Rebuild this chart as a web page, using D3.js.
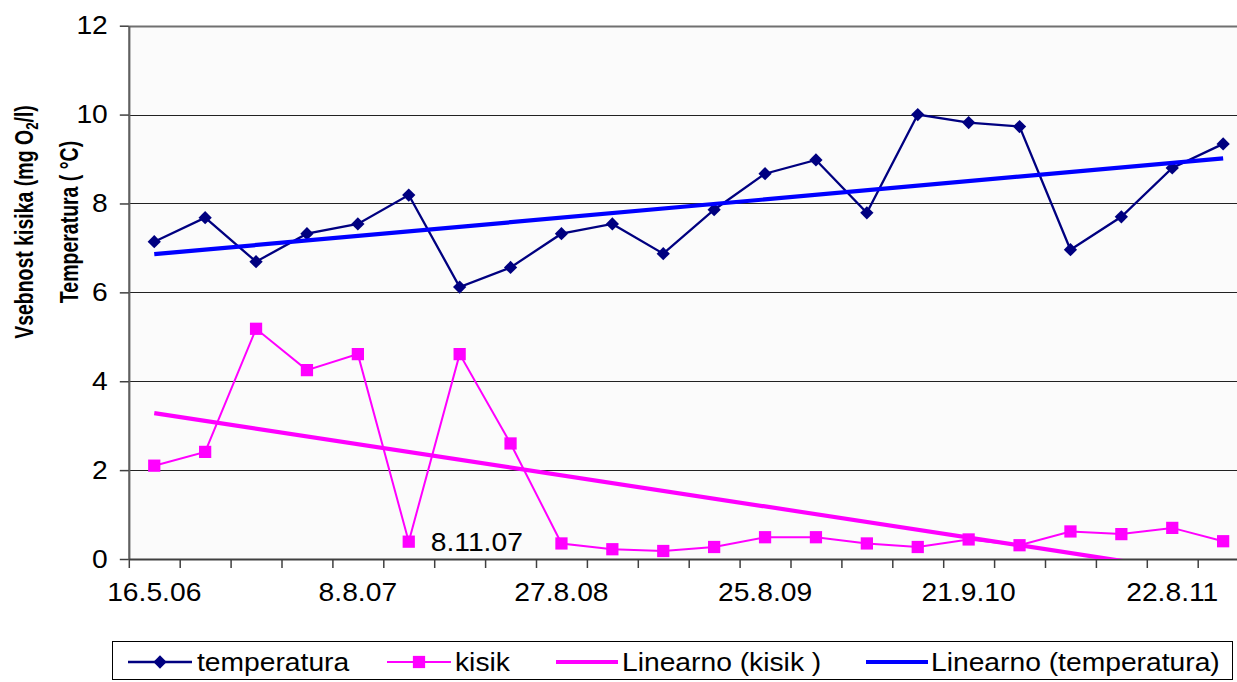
<!DOCTYPE html>
<html>
<head>
<meta charset="utf-8">
<script src="https://cdn.jsdelivr.net/npm/d3@7/dist/d3.min.js"></script>
<style>
  html, body { margin: 0; padding: 0; background: #ffffff; }
  svg { display: block; font-family: "Liberation Sans", Arial, Helvetica, sans-serif; }
</style>
</head>
<body>
<svg id="chart" width="1237" height="682"></svg>
<script>
// Sampling dates (only every fourth one is labelled on the axis)
const dateLabels = ["16.5.06", null, null, null, "8.8.07", null, null, null,
                    "27.8.08", null, null, null, "25.8.09", null, null, null,
                    "21.9.10", null, null, null, "22.8.11", null];

// Water temperature (°C)
const temperatura = [7.14, 7.68, 6.69, 7.32, 7.54, 8.19, 6.12, 6.56, 7.32, 7.54, 6.87,
                     7.86, 8.67, 8.98, 7.79, 10.0, 9.82, 9.73, 6.96, 7.70, 8.80, 9.34];

// Dissolved oxygen (mg O2/l)
const kisik = [2.10, 2.41, 5.18, 4.25, 4.61, 0.39, 4.61, 2.60, 0.35, 0.22, 0.18,
               0.27, 0.49, 0.49, 0.35, 0.27, 0.44, 0.31, 0.62, 0.56, 0.70, 0.40];

const yTicks = [0, 2, 4, 6, 8, 10, 12];
const legendLabels = ["temperatura", "kisik", "Linearno (kisik )", "Linearno (temperatura)"];
const noteLabel = "8.11.07";

const NAVY = "#000080", MAGENTA = "#ff00ff", BLUE = "#0000ff";
const FONT = 25, SX = 1.13;

const svg = d3.select("#chart");
const idx = d3.range(temperatura.length);

const plot = { left: 128.8, top: 25.7, bottom: 559 };
const band = 50.9;
const x = d3.scaleBand().domain(idx).range([plot.left, plot.left + band * idx.length]).paddingInner(0);
const xc = i => x(i) + x.bandwidth() / 2;
const xEdge = d3.scaleLinear().domain([0, idx.length]).range(x.range());
const y = d3.scaleLinear().domain([0, 12]).range([plot.bottom, plot.top]);
const plotRight = x.range()[1];

// plot area background
svg.append("rect")
  .attr("x", plot.left).attr("y", plot.top)
  .attr("width", plotRight - plot.left).attr("height", plot.bottom - plot.top)
  .attr("fill", "#fbfbfb");

svg.append("clipPath").attr("id", "plotClip")
  .append("rect")
  .attr("x", plot.left).attr("y", plot.top)
  .attr("width", plotRight - plot.left).attr("height", plot.bottom - plot.top);

// horizontal gridlines
svg.append("g").selectAll("line").data(yTicks.filter(d => d > 0)).join("line")
  .attr("x1", plot.left).attr("x2", plotRight)
  .attr("y1", d => Math.round(y(d)) + 0.5).attr("y2", d => Math.round(y(d)) + 0.5)
  .attr("stroke", d => d === 12 ? "#707070" : "#222")
  .attr("stroke-width", d => d === 12 ? 2 : 1.2);

// left axis
const yAxis = svg.append("g")
  .attr("transform", `translate(${plot.left},0)`)
  .call(d3.axisLeft(y).tickValues(yTicks).tickSize(9).tickPadding(12).tickSizeOuter(0));
yAxis.select(".domain").attr("stroke", "#606060").attr("stroke-width", 2.2);
yAxis.selectAll(".tick line").attr("stroke", "#404040").attr("stroke-width", 1.5);
yAxis.selectAll(".tick text")
  .attr("font-size", FONT).attr("fill", "#000")
  .attr("font-family", "Liberation Sans, Arial, sans-serif")
  .attr("transform", `scale(${SX},1)`)
  .attr("x", -21 / SX);

// bottom axis: tick marks between categories
const xTickAxis = svg.append("g")
  .attr("transform", `translate(0,${plot.bottom})`)
  .call(d3.axisBottom(xEdge).tickValues(d3.range(idx.length + 1)).tickSize(9).tickFormat("").tickSizeOuter(0));
xTickAxis.select(".domain").attr("stroke", "#404040").attr("stroke-width", 2.2);
xTickAxis.selectAll(".tick line").attr("stroke", "#404040").attr("stroke-width", 1.5);

// bottom axis: date labels centred on categories
const labelIdx = idx.filter(i => dateLabels[i]);
const xLabelAxis = svg.append("g")
  .attr("transform", `translate(0,${plot.bottom})`)
  .call(d3.axisBottom(x).tickValues(labelIdx).tickSize(0).tickPadding(24)
        .tickFormat(i => dateLabels[i]));
xLabelAxis.select(".domain").remove();
xLabelAxis.selectAll(".tick text")
  .attr("font-size", FONT).attr("fill", "#000")
  .attr("font-family", "Liberation Sans, Arial, sans-serif")
  .attr("transform", `scale(${SX},1)`);

// data series
const lineGen = vals => d3.line().x(i => xc(i)).y(i => y(vals[i]))(idx);

svg.append("path").attr("d", lineGen(temperatura))
  .attr("fill", "none").attr("stroke", NAVY).attr("stroke-width", 2.3);
svg.append("path").attr("d", lineGen(kisik))
  .attr("fill", "none").attr("stroke", MAGENTA).attr("stroke-width", 2);

const diamond = d3.symbol().type(d3.symbolSquare).size(88);
const square = d3.symbol().type(d3.symbolSquare).size(150);

svg.append("g").selectAll("path").data(idx).join("path")
  .attr("d", square)
  .attr("transform", i => `translate(${xc(i)},${y(kisik[i])})`)
  .attr("fill", MAGENTA);

svg.append("g").selectAll("path").data(idx).join("path")
  .attr("d", diamond)
  .attr("transform", i => `translate(${xc(i)},${y(temperatura[i])}) rotate(45)`)
  .attr("fill", NAVY);

// least-squares trend lines
function linearFit(vals) {
  const n = vals.length;
  const mx = d3.mean(idx), my = d3.mean(vals);
  let sxy = 0, sxx = 0;
  idx.forEach(i => { sxy += (i - mx) * (vals[i] - my); sxx += (i - mx) * (i - mx); });
  const b = sxy / sxx, a = my - b * mx;
  return [[0, a], [n - 1, a + b * (n - 1)]];
}
const trendLine = d3.line().x(d => xc(d[0])).y(d => y(d[1]));

const trends = svg.append("g").attr("clip-path", "url(#plotClip)");
trends.append("path").attr("d", trendLine(linearFit(kisik)))
  .attr("fill", "none").attr("stroke", MAGENTA).attr("stroke-width", 4.2);
trends.append("path").attr("d", trendLine(linearFit(temperatura)))
  .attr("fill", "none").attr("stroke", BLUE).attr("stroke-width", 4.2);

// note beside the low oxygen reading
svg.append("text")
  .attr("transform", `translate(${xc(5) + 22},${y(kisik[5]) + 9}) scale(${SX},1)`)
  .attr("font-size", FONT).attr("fill", "#000")
  .text(noteLabel);

// axis title (two rotated lines)
const title = svg.append("g").attr("transform", "translate(0,222) rotate(-90)");
const t1 = title.append("text")
  .attr("transform", "translate(0,33) scale(0.78,1)")
  .attr("text-anchor", "middle").attr("font-size", 25).attr("font-weight", "bold");
t1.append("tspan").text("Vsebnost kisika (mg O");
t1.append("tspan").attr("font-size", 17).attr("dy", 5).text("2");
t1.append("tspan").attr("dy", -5).text("/l)");
title.append("text")
  .attr("transform", "translate(0,78) scale(0.78,1)")
  .attr("text-anchor", "middle").attr("font-size", 25).attr("font-weight", "bold")
  .text("Temperatura ( °C)");

// legend
const legend = svg.append("g");
legend.append("rect")
  .attr("x", 112.5).attr("y", 641.5).attr("width", 1120).attr("height", 38)
  .attr("fill", "#fff").attr("stroke", "#000").attr("stroke-width", 1);

const legendItems = [
  { x0: 128, x1: 192, tx: 197, color: NAVY, w: 2.3, marker: "diamond" },
  { x0: 387, x1: 451, tx: 455, color: MAGENTA, w: 2, marker: "square" },
  { x0: 556, x1: 618, tx: 622, color: MAGENTA, w: 4.2, marker: null },
  { x0: 866, x1: 928, tx: 931, color: BLUE, w: 4.2, marker: null }
];
const ly = 662;
legendItems.forEach((it, k) => {
  legend.append("line")
    .attr("x1", it.x0).attr("x2", it.x1).attr("y1", ly).attr("y2", ly)
    .attr("stroke", it.color).attr("stroke-width", it.w);
  const mx = (it.x0 + it.x1) / 2;
  if (it.marker === "diamond") {
    legend.append("path").attr("d", diamond)
      .attr("transform", `translate(${mx},${ly}) rotate(45)`).attr("fill", it.color);
  } else if (it.marker === "square") {
    legend.append("path").attr("d", square)
      .attr("transform", `translate(${mx},${ly})`).attr("fill", it.color);
  }
  legend.append("text")
    .attr("transform", `translate(${it.tx},${ly + 9}) scale(${SX},1)`)
    .attr("font-size", FONT).attr("fill", "#000")
    .text(legendLabels[k]);
});
</script>
</body>
</html>
